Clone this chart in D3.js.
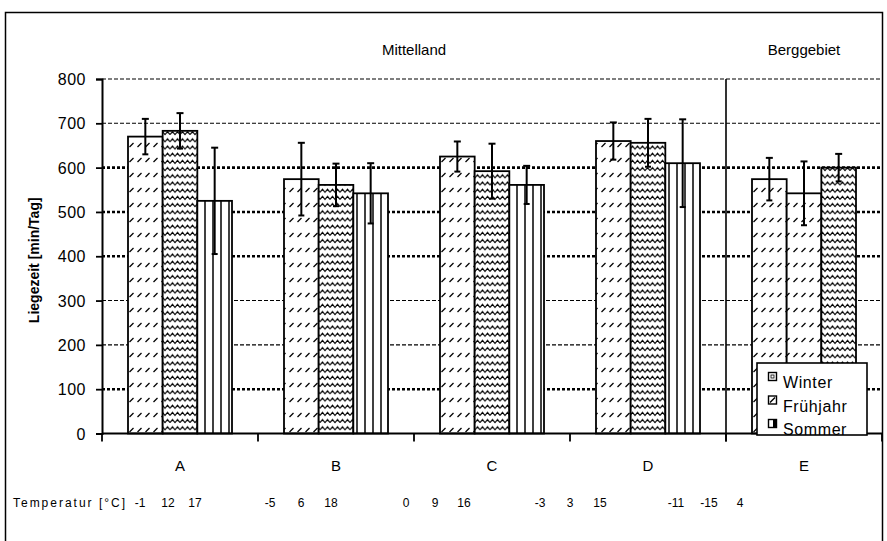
<!DOCTYPE html>
<html>
<head>
<meta charset="utf-8">
<script src="https://cdn.jsdelivr.net/npm/d3@7"></script>
<style>
  html, body { margin: 0; padding: 0; background: #fff; }
  svg { display: block; }
  text { font-family: Arial, "Liberation Sans", sans-serif; fill: #000; }
</style>
</head>
<body>
<svg id="chart" width="887" height="541"></svg>
<script>
// ---------- data ----------
const categories = ["A", "B", "C", "D", "E"];
const seriesNames = ["Winter", "Frühjahr", "Sommer"];
const winter    = [670, 574, 625, 660, 574];
const fruehjahr = [683, 561, 592, 656, 542];
const sommer    = [525, 542, 561, 610, 600];
const errWinter    = [40, 82, 34, 42, 48];
const errFruehjahr = [40, 48, 62, 54, 72];
const errSommer    = [120, 68, 43, 99, 31];
const yTicks = [0, 100, 200, 300, 400, 500, 600, 700, 800];
const regionLabels = ["Mittelland", "Berggebiet"];
const tempTitle = "Temperatur [°C]";
const temperatures = ["-1", "12", "17", "-5", "6", "18", "0", "9", "16", "-3", "3", "15", "-11", "-15", "4"];
const yTitle = "Liegezeit [min/Tag]";

// ---------- layout ----------
const svg = d3.select("#chart");
const plotL = 102, plotR = 882, plotT = 79, plotB = 433.5;

const x = d3.scaleBand().domain(categories).range([plotL, plotR]).paddingInner(0).paddingOuter(0);
const xs = d3.scaleBand().domain(seriesNames).range([0, x.step()]).paddingInner(0).paddingOuter(0.75);
const y = d3.scaleLinear().domain([0, 800]).range([plotB, plotT]);

// patterns
const defs = svg.append("defs");
const pW = defs.append("pattern").attr("id", "pWinter").attr("patternUnits", "userSpaceOnUse")
  .attr("width", 8).attr("height", 15);
pW.append("rect").attr("width", 8).attr("height", 15).attr("fill", "#fff");
pW.append("path").attr("d", "M1.5,12 L5.5,8").attr("stroke", "#000").attr("stroke-width", 1.3);

const pF = defs.append("pattern").attr("id", "pFrueh").attr("patternUnits", "userSpaceOnUse")
  .attr("width", 10).attr("height", 7.2);
pF.append("rect").attr("width", 10).attr("height", 7.2).attr("fill", "#fff");
pF.append("path").attr("d", "M0,5 L2.5,2 L5,5 L7.5,2 L10,5").attr("fill", "none")
  .attr("stroke", "#000").attr("stroke-width", 1.2);

const pS = defs.append("pattern").attr("id", "pSommer").attr("patternUnits", "userSpaceOnUse")
  .attr("width", 8).attr("height", 10).attr("x", 1);
pS.append("rect").attr("width", 8).attr("height", 10).attr("fill", "#fff");
pS.append("line").attr("x1", 4).attr("x2", 4).attr("y1", 0).attr("y2", 10)
  .attr("stroke", "#000").attr("stroke-width", 1.5);

const patternIds = { w: "url(#pWinter)", f: "url(#pFrueh)", s: "url(#pSommer)" };
// fill used for each series in each category (E reproduces the original's pattern order)
const barPatterns = { A: ["w", "f", "s"], B: ["w", "f", "s"], C: ["w", "f", "s"], D: ["w", "f", "s"], E: ["w", "w", "f"] };

// outer frame
svg.append("rect").attr("x", 5.5).attr("y", 12.5).attr("width", 877).attr("height", 560)
  .attr("fill", "none").attr("stroke", "#000").attr("stroke-width", 1.5);

// gridlines
const boldGrid = new Set([100, 400, 500, 600]);
svg.append("g").selectAll("line").data(yTicks.filter(d => d > 0)).join("line")
  .attr("x1", plotL).attr("x2", plotR)
  .attr("y1", d => y(d)).attr("y2", d => y(d))
  .attr("stroke", "#000")
  .attr("stroke-width", d => boldGrid.has(d) ? 2.6 : 1.1)
  .attr("stroke-dasharray", d => boldGrid.has(d) ? "3,2" : "4,2");

// bars
const seriesVals = [winter, fruehjahr, sommer];
const seriesErr = [errWinter, errFruehjahr, errSommer];
const barData = [];
categories.forEach((c, i) => {
  seriesNames.forEach((s, j) => {
    barData.push({ cat: c, ser: s, j: j, v: seriesVals[j][i], e: seriesErr[j][i] });
  });
});

svg.append("g").selectAll("rect").data(barData).join("rect")
  .attr("x", d => x(d.cat) + xs(d.ser))
  .attr("y", d => y(d.v))
  .attr("width", xs.bandwidth())
  .attr("height", d => y(0) - y(d.v))
  .attr("fill", d => patternIds[barPatterns[d.cat][d.j]])
  .attr("stroke", "#000").attr("stroke-width", 1.8);

// error bars
const eg = svg.append("g").attr("stroke", "#000").attr("stroke-width", 2);
barData.forEach(d => {
  const cx = x(d.cat) + xs(d.ser) + xs.bandwidth() / 2;
  eg.append("line").attr("x1", cx).attr("x2", cx).attr("y1", y(d.v + d.e)).attr("y2", y(d.v - d.e));
  eg.append("line").attr("x1", cx - 3.5).attr("x2", cx + 3.5).attr("y1", y(d.v + d.e)).attr("y2", y(d.v + d.e));
  eg.append("line").attr("x1", cx - 3).attr("x2", cx + 3).attr("y1", y(d.v - d.e)).attr("y2", y(d.v - d.e));
});

// y axis
const yAxis = svg.append("g").attr("transform", `translate(${plotL},0)`)
  .call(d3.axisLeft(y).tickValues(yTicks).tickSize(6).tickPadding(10).tickFormat(d3.format("d")));
yAxis.select(".domain").attr("stroke", "#000").attr("stroke-width", 2);
yAxis.selectAll(".tick line").attr("stroke", "#000").attr("stroke-width", 1.8);
yAxis.selectAll(".tick text").attr("font-size", 16).attr("letter-spacing", 0.5)
  .attr("font-family", "Arial, 'Liberation Sans', sans-serif").attr("fill", "#000").attr("dy", "0.35em");

// x axis
const xEdges = categories.map(c => x(c)).concat([x.range()[1]]);
svg.append("line").attr("x1", plotL).attr("x2", plotR).attr("y1", plotB).attr("y2", plotB)
  .attr("stroke", "#000").attr("stroke-width", 2);
svg.append("g").selectAll("line").data(xEdges).join("line")
  .attr("x1", d => d).attr("x2", d => d).attr("y1", plotB).attr("y2", plotB + 8)
  .attr("stroke", "#000").attr("stroke-width", 1.8);
svg.append("g").selectAll("text").data(categories).join("text")
  .attr("x", d => x(d) + x.bandwidth() / 2).attr("y", 471)
  .attr("text-anchor", "middle").attr("font-size", 15).text(d => d);

// divider between Mittelland and Berggebiet
svg.append("line").attr("x1", x("E")).attr("x2", x("E"))
  .attr("y1", y(800)).attr("y2", plotB + 8)
  .attr("stroke", "#000").attr("stroke-width", 1.6);

// region labels
svg.append("text").attr("x", (x("A") + x("E")) / 2).attr("y", 55)
  .attr("text-anchor", "middle").attr("font-size", 15).text(regionLabels[0]);
svg.append("text").attr("x", x("E") + x.bandwidth() / 2).attr("y", 55)
  .attr("text-anchor", "middle").attr("font-size", 15).text(regionLabels[1]);

// y title
svg.append("text").attr("transform", `translate(39,${(plotT + plotB) / 2 + 4}) rotate(-90)`)
  .attr("text-anchor", "middle").attr("font-size", 14).attr("font-weight", "bold")
  .text(yTitle);

// temperature row
const tempX = [140, 168, 195, 270, 301, 331, 406, 435, 464, 540, 570, 600, 676, 709, 740];
svg.append("text").attr("x", 13).attr("y", 507).attr("font-size", 12)
  .attr("textLength", 112).attr("lengthAdjust", "spacing").text(tempTitle);
svg.append("g").selectAll("text").data(temperatures).join("text")
  .attr("x", (d, i) => tempX[i]).attr("y", 507)
  .attr("text-anchor", "middle").attr("font-size", 12).text(d => d);

// legend
const lg = svg.append("g");
svg.select("defs").append("clipPath").attr("id", "legClip")
  .append("rect").attr("x", 757).attr("y", 363).attr("width", 110).attr("height", 72);
lg.append("rect").attr("x", 757).attr("y", 363).attr("width", 110).attr("height", 72)
  .attr("fill", "#fff").attr("stroke", "#000").attr("stroke-width", 1.6);
const li = lg.append("g").attr("clip-path", "url(#legClip)");
seriesNames.forEach((s, i) => {
  const yy = 372 + i * 23.5;
  li.append("rect").attr("x", 768.5).attr("y", yy + 0.5).attr("width", 8).attr("height", 8)
    .attr("fill", "#fff").attr("stroke", "#000").attr("stroke-width", 1.4);
  if (i === 0) {
    li.append("rect").attr("x", 771).attr("y", yy + 3).attr("width", 3).attr("height", 3)
      .attr("fill", "none").attr("stroke", "#000").attr("stroke-width", 0.8);
  } else if (i === 1) {
    li.append("path").attr("d", `M770,${yy + 7} L775,${yy + 2}`).attr("stroke", "#000").attr("stroke-width", 1.4);
  } else {
    li.append("rect").attr("x", 773).attr("y", yy + 1).attr("width", 3).attr("height", 7).attr("fill", "#000");
  }
  li.append("text").attr("x", 783).attr("y", yy + 16).attr("font-size", 16)
    .attr("letter-spacing", 0.6).text(s);
});
</script>
</body>
</html>
